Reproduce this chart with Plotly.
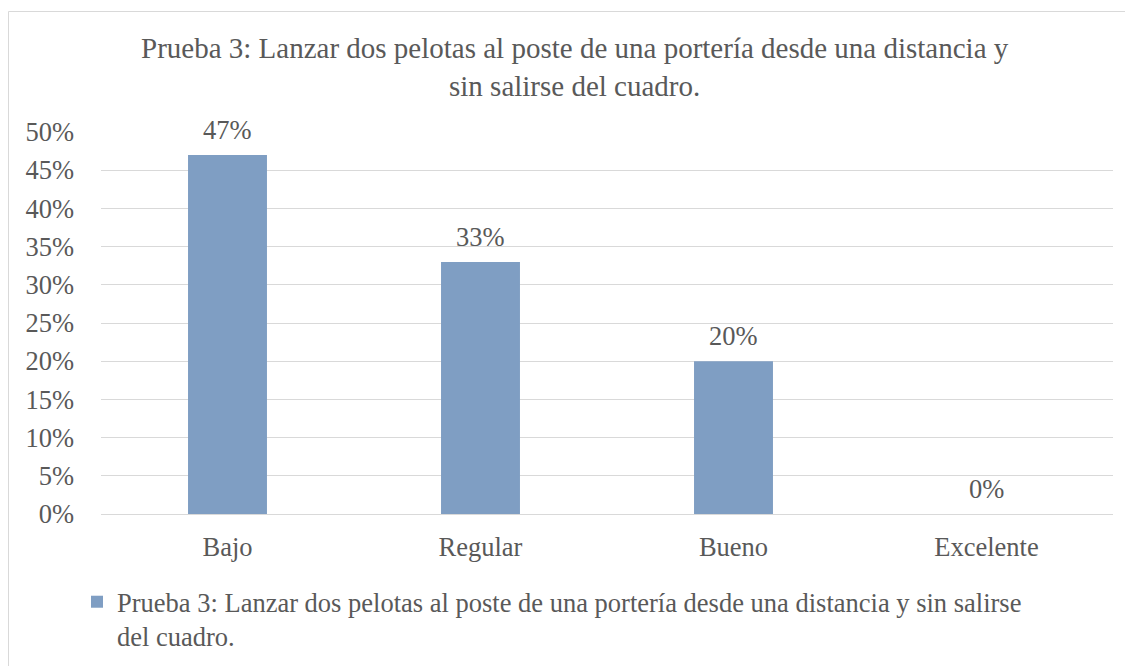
import plotly.graph_objects as go

categories = ["Bajo", "Regular", "Bueno", "Excelente"]
values = [0.47, 0.33, 0.20, 0.0]
labels = ["47%", "33%", "20%", "0%"]
series_name = "Prueba 3: Lanzar dos pelotas al poste de una portería desde una distancia y sin salirse<br>del cuadro."
title_text = "Prueba 3: Lanzar dos pelotas al poste de una portería desde una distancia y<br>sin salirse del cuadro."

OFF = 8  # page body margin
W, H = 1133, 666
plot_left, plot_right, plot_top, plot_bottom = 101 - OFF, 1113 - OFF, 132 - OFF, 514 - OFF
L, R, T, B = plot_left, W - plot_right, plot_top, H - plot_bottom
pw = W - L - R
ph = H - T - B

def px(x):  # page x -> paper
    return (x - OFF - L) / pw

def py(y):  # page y -> paper
    return (H - B - (y - OFF)) / ph

font_family = "Liberation Serif, Times New Roman, serif"
txt_color = "#595959"
FS = 26.5

fig = go.Figure()
fig.add_trace(go.Bar(
    x=categories, y=values, name=series_name,
    marker=dict(color="#7F9EC3", line=dict(width=0)),
    width=0.312, showlegend=True,
))

annotations = [dict(
    text=title_text, xref="paper", yref="paper",
    x=px(575), y=py(30), xanchor="center", yanchor="top",
    showarrow=False, align="center",
    font=dict(family=font_family, size=29, color=txt_color),
)]
for c, v, t in zip(categories, values, labels):
    annotations.append(dict(
        text=t, x=c, y=v, xref="x", yref="y",
        xanchor="center", yanchor="bottom", yshift=8,
        showarrow=False,
        font=dict(family=font_family, size=FS, color=txt_color),
    ))

fig.update_layout(
    width=W, height=H,
    margin=dict(l=L, r=R, t=T, b=B),
    paper_bgcolor="white", plot_bgcolor="white",
    font=dict(family=font_family, size=FS, color=txt_color),
    showlegend=True,
    legend=dict(
        orientation="v", x=px(77), y=py(578), xanchor="left", yanchor="top",
        font=dict(family=font_family, size=FS, color=txt_color),
        valign="top", bgcolor="rgba(0,0,0,0)", tracegroupgap=0,
    ),
    annotations=annotations,
    shapes=[dict(
        type="rect", xref="paper", yref="paper",
        x0=px(8.5), x1=px(1300), y0=py(11.5), y1=py(900),
        line=dict(color="#D9D9D9", width=1), fillcolor="rgba(0,0,0,0)", layer="below",
    )],
)

fig.update_xaxes(
    showgrid=False, showline=False, ticks="",
    tickfont=dict(family=font_family, size=FS, color=txt_color),
    ticklabelstandoff=14,
)
fig.update_yaxes(
    range=[0, 0.5], dtick=0.05, tickformat=".0%",
    showgrid=True, gridcolor="#D9D9D9", gridwidth=1,
    zeroline=True, zerolinecolor="#D9D9D9", zerolinewidth=1,
    showline=False, ticks="",
    tickfont=dict(family=font_family, size=FS, color=txt_color),
    ticklabelstandoff=26,
)

fig.write_html("out.html")
